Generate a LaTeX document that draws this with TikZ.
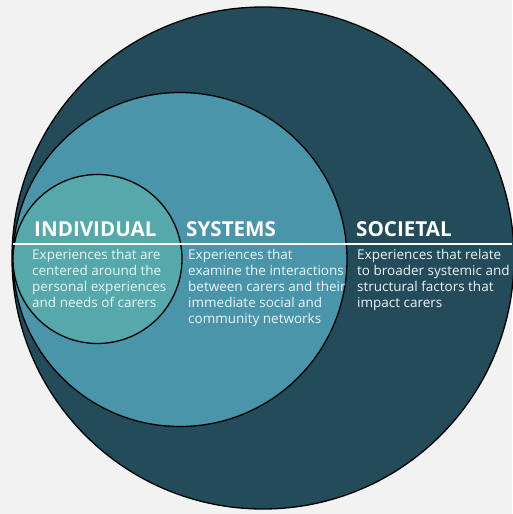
\documentclass[tikz,border=0pt]{standalone}
\usepackage{fontspec}
\setmainfont{Open Sans}
\definecolor{bg}{HTML}{F2F2F2}
\definecolor{outerring}{HTML}{244B59}
\definecolor{midring}{HTML}{4A95A9}
\definecolor{innerring}{HTML}{56A8AA}
\newcommand{\desc}[1]{\begin{tabular}[t]{@{}l@{}}#1\end{tabular}}
\begin{document}
\begin{tikzpicture}[x=1pt,y=-1pt,
  ring/.style={draw=black, line width=1.3pt},
  heading/.style={anchor=base west, inner sep=0pt, text=white,
    font=\fontsize{20.6}{22}\selectfont\bfseries},
  body/.style={anchor=base west, inner sep=0pt, text=white!90!midring,
    font=\fontsize{13.5}{16}\selectfont}]
% canvas
\fill[bg] (0,0) rectangle (512,514);
\useasboundingbox (0,0) rectangle (512,514);
% nested circles
\path[ring, fill=outerring] (263,258) circle (251);
\path[ring, fill=midring] (180,259.5) circle (167);
\path[ring, fill=innerring] (97.5,259) circle (84.5);
% divider
\coordinate (divL) at (13,244);
\coordinate (divR) at (512,244);
\draw[white, line width=2.2pt] (divL) -- (divR);
% headings
\node[heading] (hInd) at (34,236) {INDIVIDUAL};
\node[heading] (hSys) at (186,236) {SYSTEMS};
\node[heading] (hSoc) at (356,236) {SOCIETAL};
% descriptions
\node[body] (tInd) at (32,259.5) {\desc{Experiences that are\\centered around the\\personal experiences\\and needs of carers}};
\node[body] (tSys) at (188,259.5) {\desc{Experiences that\\examine the interactions\\between carers and their\\immediate social and\\community networks}};
\node[body] (tSoc) at (357,259.5) {\desc{Experiences that relate\\to broader systemic and\\structural factors that\\impact carers}};
\end{tikzpicture}
\end{document}
